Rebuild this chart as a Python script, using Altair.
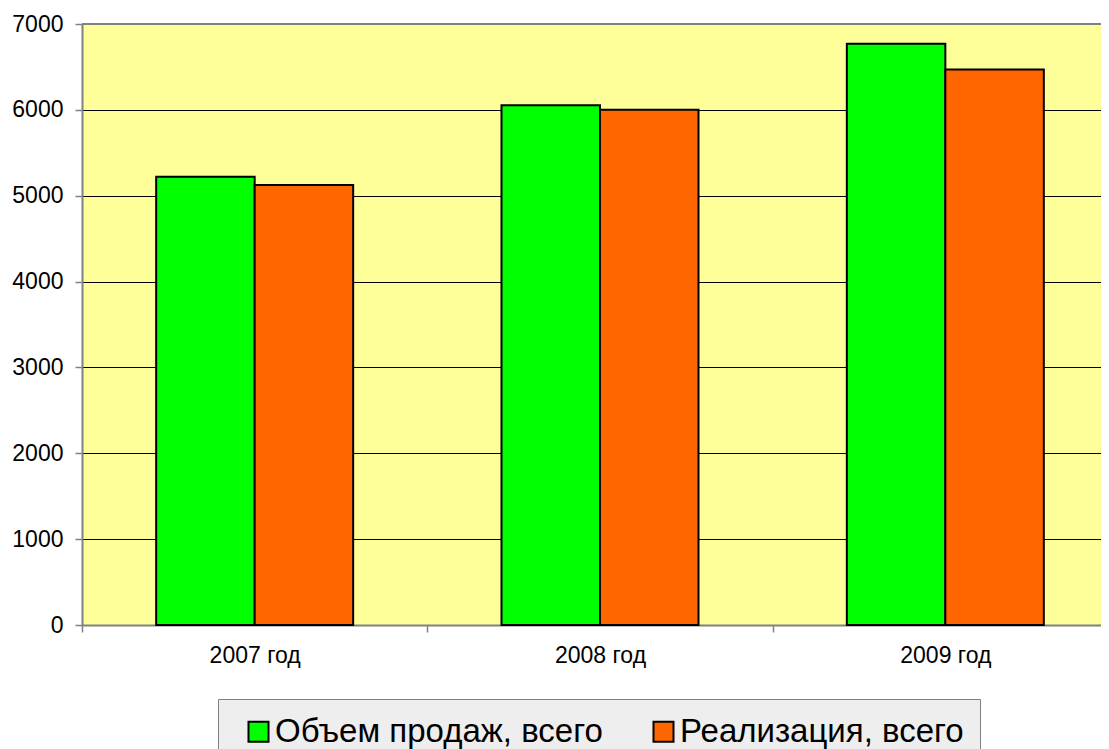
import altair as alt
import pandas as pd

years = ["2007 год", "2008 год", "2009 год"]
series = ["Объем продаж, всего", "Реализация, всего"]
sales_volume = [5220, 6055, 6770]
realization = [5125, 6000, 6470]
colors = ["#00ff00", "#ff6600"]
y_ticks = [0, 1000, 2000, 3000, 4000, 5000, 6000, 7000]
y_max = 7000

rows = []
for name, vals in zip(series, [sales_volume, realization]):
    for yr, v in zip(years, vals):
        rows.append({"year": yr, "series": name, "value": v})
df = pd.DataFrame(rows)

FONT = "Arial"

y_enc = alt.Y(
    "value:Q", title=None,
    scale=alt.Scale(domain=[0, y_max], nice=False),
    axis=alt.Axis(values=y_ticks, format="d", grid=True, gridColor="black", gridWidth=1,
                  domainColor="#808080", domainWidth=2, tickColor="#808080", tickWidth=1.5,
                  tickSize=7, labelPadding=12, labelFontSize=23, labelFont=FONT,
                  labelColor="black"),
)

bars = alt.Chart(df).mark_bar(stroke="black", strokeWidth=2).encode(
    x=alt.X(
        "year:N", sort=years, title=None,
        scale=alt.Scale(range=[0, 1036], paddingInner=0, paddingOuter=0),
        axis=alt.Axis(labelAngle=0, tickBand="extent", domainColor="#808080", domainWidth=2,
                      tickColor="#808080", tickWidth=1.5, tickSize=7, labelPadding=12,
                      labelFontSize=23, labelFont=FONT, labelColor="black", grid=False),
    ),
    xOffset=alt.XOffset("series:N", sort=series,
                        scale=alt.Scale(paddingInner=0, paddingOuter=0.753)),
    y=y_enc,
    color=alt.Color(
        "series:N", sort=series,
        scale=alt.Scale(domain=series, range=colors),
        legend=alt.Legend(
            orient="none", legendX=136, legendY=675, direction="horizontal",
            title=" ", titleOrient="left", titlePadding=8, titleFontSize=2,
            symbolType="square", symbolSize=400, symbolStrokeColor="black",
            symbolStrokeWidth=2, symbolOpacity=1,
            labelFontSize=33, labelFont=FONT, labelColor="black", labelOffset=0,
            labelLimit=600, columnPadding=44, padding=16,
            fillColor="#eeeeee", strokeColor="#808080",
        ),
    ),
)

top_border = alt.Chart(df).mark_rule(color="#808080", strokeWidth=2).encode(
    y=alt.datum(y_max)
)

chart = alt.layer(bars, top_border).properties(
    width=1019, height=601, background="white",
    autosize=alt.AutoSizeParams(type="none"),
    padding={"left": 74, "top": 16, "right": 0, "bottom": 124},
).configure_view(fill="#ffff99", stroke="transparent", strokeWidth=0)

chart.save("out.html", embed_options={"renderer": "svg", "actions": False})
